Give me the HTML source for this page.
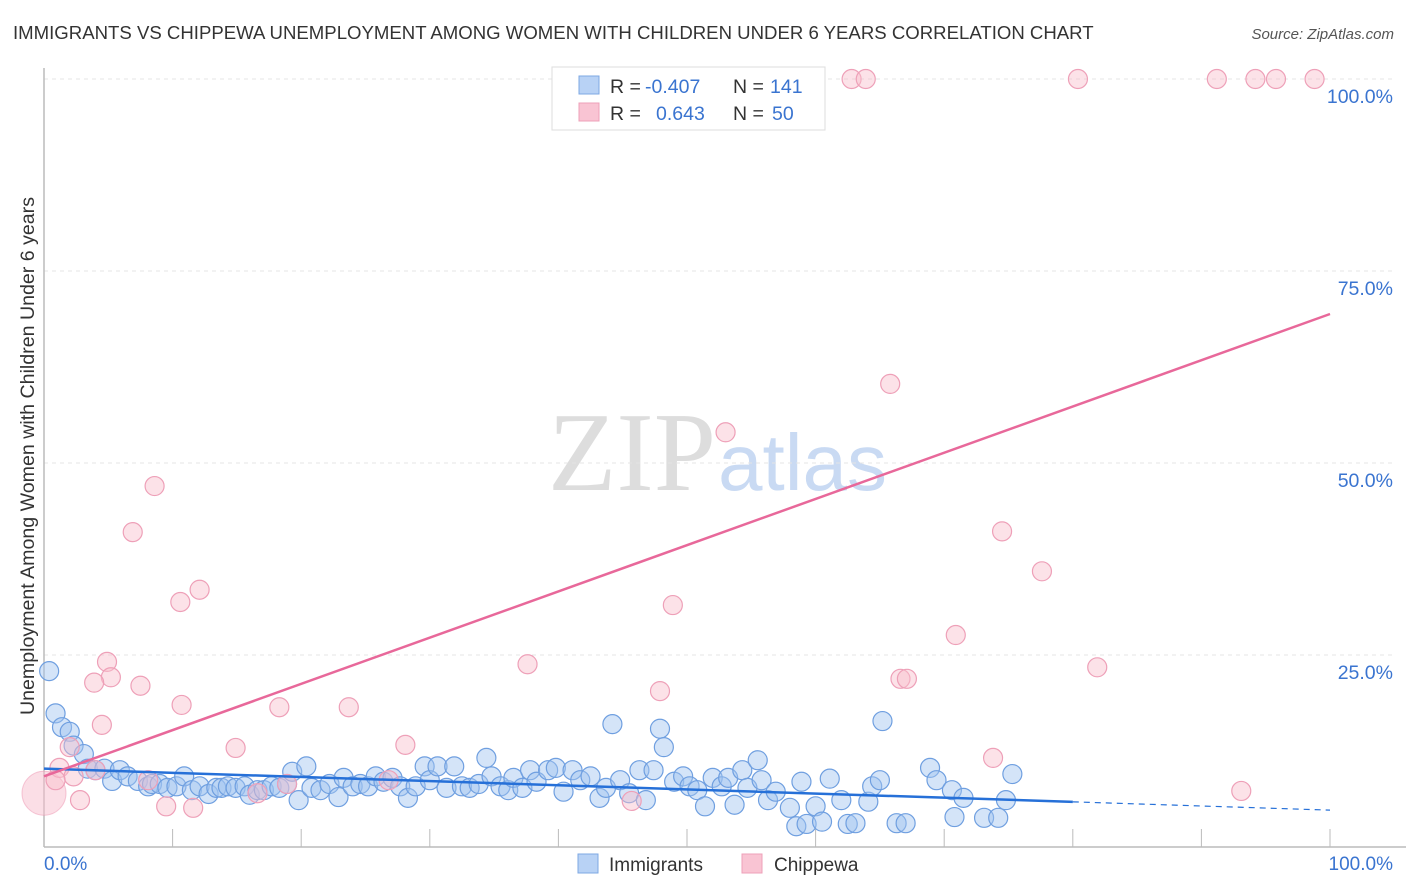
<!DOCTYPE html>
<html><head><meta charset="utf-8"><style>
body{margin:0;background:#fff;font-family:"Liberation Sans",sans-serif;}
svg{display:block}
</style></head><body>
<svg id="chart" width="1406" height="892">
<text x="13" y="39" font-size="18.6" fill="#333">IMMIGRANTS VS CHIPPEWA UNEMPLOYMENT AMONG WOMEN WITH CHILDREN UNDER 6 YEARS CORRELATION CHART</text>
<text x="1394" y="39" font-size="15" fill="#555" font-style="italic" text-anchor="end">Source: ZipAtlas.com</text>
<text x="716" y="490" font-size="112" fill="#ddd" font-family="Liberation Serif,serif" text-anchor="end">ZIP</text>
<text x="718" y="490" font-size="80" fill="#c9daf3">atlas</text>
<g id="grid"></g>
<g id="axes"></g>
<g id="pts"></g>
<g id="trends"></g>
<text transform="translate(34,456) rotate(-90)" font-size="19.6" fill="#333" text-anchor="middle">Unemployment Among Women with Children Under 6 years</text>
<g>
<rect x="552" y="67" width="273" height="63" fill="#fff" stroke="#ddd"/>
<rect x="579" y="76" width="20" height="18" fill="#b8d2f5" stroke="#7ea8e3"/>
<rect x="579" y="103" width="20" height="18" fill="#f9c4d3" stroke="#eea0b8"/>
<text x="610" y="93" font-size="19.5" fill="#333">R =</text>
<text x="645" y="93" font-size="19.5" fill="#3a74d0">-0.407</text>
<text x="733" y="93" font-size="19.5" fill="#333">N =</text>
<text x="770" y="93" font-size="19.5" fill="#3a74d0">141</text>
<text x="610" y="120" font-size="19.5" fill="#333">R =</text>
<text x="656" y="120" font-size="19.5" fill="#3a74d0">0.643</text>
<text x="733" y="120" font-size="19.5" fill="#333">N =</text>
<text x="772" y="120" font-size="19.5" fill="#3a74d0">50</text>
</g>
<g>
<rect x="578" y="854" width="20" height="19" fill="#b8d2f5" stroke="#7ea8e3"/>
<text x="609" y="871" font-size="19" fill="#333">Immigrants</text>
<rect x="742" y="854" width="20" height="19" fill="#f9c4d3" stroke="#eea0b8"/>
<text x="774" y="871" font-size="19" fill="#333">Chippewa</text>
</g>
</svg>
<script>
const yTicks=[25,50,75,100];
const yTickLabels=["25.0%","50.0%","75.0%","100.0%"];
const immX=[0.4,0.9,1.4,2.0,2.3,3.1,3.4,4.0,4.7,5.3,5.9,6.5,7.3,8.1,8.4,9.0,9.6,10.3,10.9,11.5,12.1,12.8,13.4,13.8,14.3,14.9,15.6,16.0,16.6,17.1,17.7,18.3,18.9,19.3,19.8,20.4,20.8,21.5,22.2,22.9,23.3,24.0,24.6,25.2,25.8,26.4,27.1,27.7,28.3,28.9,29.6,30.0,30.6,31.3,31.9,32.5,33.1,33.8,34.4,34.8,35.5,36.1,36.5,37.2,37.8,38.3,39.2,39.8,40.4,41.1,41.7,42.5,43.2,43.7,44.2,44.8,45.5,46.3,46.8,47.4,47.9,48.2,49.0,49.7,50.2,50.8,51.4,52.0,52.7,53.2,53.7,54.3,54.7,55.5,55.8,56.3,56.9,58.0,58.5,58.9,59.3,60.0,60.5,61.1,62.0,62.5,63.1,64.1,64.4,65.2,65.0,66.3,67.0,68.9,69.4,70.6,70.8,71.5,73.1,74.2,74.8,75.3];
const immY=[22.9,17.4,15.6,15.0,13.2,12.1,10.2,10.0,10.2,8.6,10.0,9.2,8.6,7.9,8.2,8.2,7.7,7.9,9.2,7.4,7.9,6.9,7.7,7.7,7.9,7.7,7.9,6.8,7.4,7.4,7.9,7.7,8.2,9.8,6.1,10.5,7.7,7.4,8.2,6.5,9.0,7.9,8.2,7.9,9.2,8.5,9.0,7.9,6.4,7.9,10.5,8.7,10.5,7.7,10.5,7.9,7.7,8.2,11.6,9.2,7.9,7.4,9.0,7.7,10.0,8.5,10.0,10.3,7.2,10.0,8.7,9.2,6.4,7.7,16.0,8.7,7.0,10.0,6.1,10.0,15.4,13.0,8.5,9.2,7.9,7.4,5.3,9.0,7.9,9.0,5.5,10.0,7.7,11.3,8.7,6.1,7.2,5.1,2.7,8.5,3.0,5.3,3.3,8.9,6.1,3.0,3.1,5.9,7.9,16.4,8.7,3.1,3.1,10.3,8.7,7.4,3.9,6.4,3.8,3.8,6.1,9.5];
const chiX=[62.8,63.9,80.4,91.2,94.2,95.8,98.8,65.8,53.0,8.6,6.9,74.5,77.6,12.1,10.6,48.9,70.9,4.9,37.6,5.2,3.9,7.5,66.6,67.1,81.9,47.9,10.7,18.3,23.7,4.5,14.9,28.1,2.0,73.8,1.2,2.3,0.9,2.8,9.5,11.6,45.7,93.1,8.1,26.8,16.6,18.9,4.0];
const chiY=[100,100,100,100,100,100,100,60.3,54.0,47.0,41.0,41.1,35.9,33.5,31.9,31.5,27.6,24.1,23.8,22.1,21.4,21.0,21.9,21.9,23.4,20.3,18.5,18.2,18.2,15.9,12.9,13.3,13.0,11.6,10.3,9.2,8.7,6.1,5.3,5.1,6.0,7.3,8.7,8.7,7.0,8.2,10.0];
const immTrend=[10.2,4.8];
const chiTrend=[9.2,69.4];
const X0=44,X1=1330,Y0=847,Y1=79;
const sx=v=>X0+(X1-X0)*v/100, sy=v=>Y0-(Y0-Y1)*v/100;
const NS="http://www.w3.org/2000/svg";
function mk(tag,attrs,parent){const e=document.createElementNS(NS,tag);for(const k in attrs)e.setAttribute(k,attrs[k]);parent.appendChild(e);return e;}
const grid=document.getElementById('grid'),axes=document.getElementById('axes'),pts=document.getElementById('pts'),tr=document.getElementById('trends');
yTicks.forEach((t,i)=>{
 const l=mk('line',{x1:X0,x2:1394,y1:sy(t),y2:sy(t),stroke:'#e4e4e4','stroke-dasharray':'4,4'},grid);
 
 
 const tx=mk('text',{x:1393,y:sy(t)+24,'font-size':19.5,fill:'#3a74d0','text-anchor':'end'},grid);
 tx.textContent=yTickLabels[i];
 
 
});
const xa=mk('line',{x1:X0,x2:1406,y1:Y0,y2:Y0,stroke:'#bbb','stroke-width':1.5},axes);


const ya=mk('line',{x1:X0,x2:X0,y1:68,y2:Y0,stroke:'#bbb','stroke-width':1.5},axes);


for(let i=1;i<=10;i++){const t=mk('line',{x1:sx(i*10),x2:sx(i*10),y1:Y0-18,y2:Y0,stroke:'#bbb'},axes);
 
 }
const xl0=mk('text',{x:44,y:870,'font-size':19,fill:'#3a74d0'},axes);xl0.textContent='0.0%';


const xl1=mk('text',{x:1393,y:870,'font-size':19,fill:'#3a74d0','text-anchor':'end'},axes);xl1.textContent='100.0%';


const big=mk('circle',{cx:sx(0),cy:sy(7),r:22,fill:'rgba(248,190,205,0.5)',stroke:'rgba(238,150,178,0.5)'},pts);


immX.forEach((x,i)=>{const c=mk('circle',{cx:sx(x),cy:sy(immY[i]),r:9.5,fill:'rgba(160,196,240,0.45)',stroke:'#6f9fe0','stroke-width':1.2},pts);
 
 });
chiX.forEach((x,i)=>{const c=mk('circle',{cx:sx(x),cy:sy(chiY[i]),r:9.5,fill:'rgba(248,190,205,0.45)',stroke:'#eea0b8','stroke-width':1.2},pts);
 
 });
const iy=x=>immTrend[0]+(immTrend[1]-immTrend[0])*x/100;
const t1=mk('line',{x1:sx(0),y1:sy(iy(0)),x2:sx(80),y2:sy(iy(80)),stroke:'#2670d8','stroke-width':2.5},tr);


const t2=mk('line',{x1:sx(80),y1:sy(iy(80)),x2:sx(100),y2:sy(iy(100)),stroke:'#2670d8','stroke-width':1.2,'stroke-dasharray':'6,5'},tr);


const t3=mk('line',{x1:sx(0),y1:sy(chiTrend[0]),x2:sx(100),y2:sy(chiTrend[1]),stroke:'#e8689a','stroke-width':2.5},tr);


</script>
</body></html>
